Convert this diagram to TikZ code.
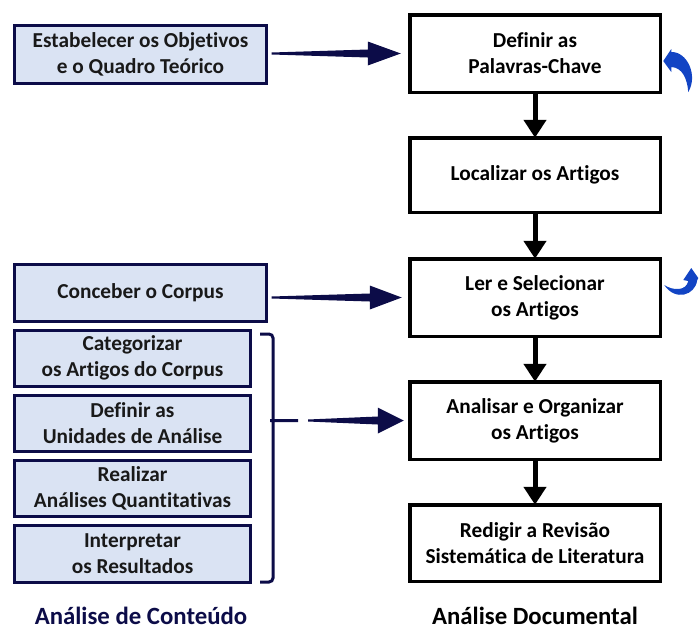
\documentclass[tikz,border=0pt]{standalone}
\usepackage{fontspec}
\setmainfont{Carlito}[Ligatures={NoCommon,NoRare,NoContextual}]
\usetikzlibrary{arrows.meta,calc}
\definecolor{navy}{RGB}{12,12,72}
\definecolor{paleblue}{RGB}{218,227,243}
\definecolor{curlblue}{RGB}{18,68,196}

% tapered horizontal arrow: #1 tail, #2 tip, #3 head length, #4 head half width
\newcommand\taperarrow[4]{%
  \fill[navy] let \p1=(#1), \p2=(#2) in
    ({\x1},{\y2+1pt}) -- ({\x2-#3},{\y2+4pt}) -- ({\x2-#3},{\y2+#4}) -- (\x2,\y2)
    -- ({\x2-#3},{\y2-#4}) -- ({\x2-#3},{\y2-4pt}) -- ({\x1},{\y2-1pt}) -- cycle;}

\begin{document}
\begin{tikzpicture}[x=1pt,y=-1pt,
  boxtext/.style={align=center, font=\bfseries\fontsize{21.3}{26}\selectfont},
  leftbox/.style={boxtext, draw=navy, fill=paleblue, line width=3pt, outer sep=0pt, inner sep=0pt, text=black!90},
  rightbox/.style={boxtext, draw=black, fill=white, line width=3.5pt, outer sep=0pt, inner sep=0pt,
    minimum width=250.5pt},
  downarrow/.style={line width=5pt, -{Triangle[width=22pt,length=18pt]}},
  caption/.style={font=\bfseries\fontsize{24.8}{30}\selectfont, anchor=base, inner sep=0pt}]
\useasboundingbox (0,0) rectangle (699,629);

% left column: content analysis steps
\node[leftbox, minimum width=252pt, minimum height=58pt] (e1) at (140.5,54.5)
  {Estabelecer os Objetivos\\e o Quadro Teórico};
\node[leftbox, minimum width=252pt, minimum height=57pt] (e2) at (140.5,293)
  {Conceber o Corpus};
\node[leftbox, minimum width=236pt, minimum height=56pt] (c1) at (132.5,358)
  {Categorizar\\os Artigos do Corpus};
\node[leftbox, minimum width=236pt, minimum height=56pt] (c2) at (132.5,423.5)
  {Definir as\\Unidades de Análise};
\node[leftbox, minimum width=236pt, minimum height=56pt] (c3) at (132.5,488.5)
  {Realizar\\Análises Quantitativas};
\node[leftbox, minimum width=236pt, minimum height=57pt] (c4) at (132.5,553.5)
  {Interpretar\\os Resultados};

% right column: documentary analysis steps
\node[rightbox, minimum height=77.5pt] (d1) at (535,53.5) {Definir as\\Palavras-Chave};
\node[rightbox, minimum height=74.5pt] (d2) at (535,175) {Localizar os Artigos};
\node[rightbox, minimum height=77.5pt] (d3) at (535,297.5) {Ler e Selecionar\\os Artigos};
\node[rightbox, minimum height=77.5pt] (d4) at (535,420.5) {Analisar e Organizar\\os Artigos};
\node[rightbox, minimum height=76.5pt] (d5) at (535,543) {Redigir a Revisão\\Sistemática de Literatura};

% vertical flow
\draw[downarrow] (d1.south) -- (d2.north);
\draw[downarrow] (d2.south) -- (d3.north);
\draw[downarrow] (d3.south) -- (d4.north);
\draw[downarrow] (d4.south) -- (d5.north);

% brace grouping the four analysis steps, with its centre tick
\coordinate (bt) at ($(c1.north east)+(9.5,4)$);
\coordinate (bb) at ($(c4.south east)+(9.5,0)$);
\coordinate (bs) at ($(bt)+(13,0)$);
\coordinate (bm) at (bs |- d4.west);
\coordinate (bme) at ($(bm)+(25,0)$);
\draw[navy, line width=3pt, rounded corners=4pt]
  (bt) -- (bs) -- (bs |- bb) -- (bb)
  ($(bm)+(-3,0)$) -- (bme);

% horizontal links
\coordinate (t1) at ($(e1.east)+(5,0)$);
\coordinate (h1) at ($(d1.west)+(-9,0)$);
\taperarrow{t1}{h1}{33pt}{12pt}
\coordinate (t2) at ($(e2.east)+(5,0)$);
\coordinate (h2) at ($(d3.west)+(-8,0)$);
\taperarrow{t2}{h2}{32pt}{12pt}
\coordinate (t3) at ($(bme)+(10,0)$);
\coordinate (h3) at ($(d4.west)+(-6,0)$);
\taperarrow{t3}{h3}{26pt}{13pt}

% curled return arrows
\begin{scope}[shift={(d1.east)}]
  \fill[curlblue] (11,-1.5) .. controls (27,-2) and (38,22) .. (28,38.5)
    .. controls (27,25) and (22,14) .. (11,13.5)
    -- (11,18.5) -- (3,7.5) -- (11,-4.5) -- cycle;
\end{scope}
\begin{scope}[shift={(d3.east)}]
  \fill[curlblue] (37,-17.5) .. controls (35,-2) and (15,4) .. (4,-12.5)
    .. controls (12,-7) and (26,-6) .. (28,-16.5)
    -- (23,-17.5) -- (31,-29.5) -- (38,-19.5) -- cycle;
\end{scope}

% column captions
\node[caption, text=navy] (capL) at (141,624) {Análise de Conteúdo};
\node[caption, text=black] (capR) at (535,624) {Análise Documental};
\end{tikzpicture}
\end{document}
